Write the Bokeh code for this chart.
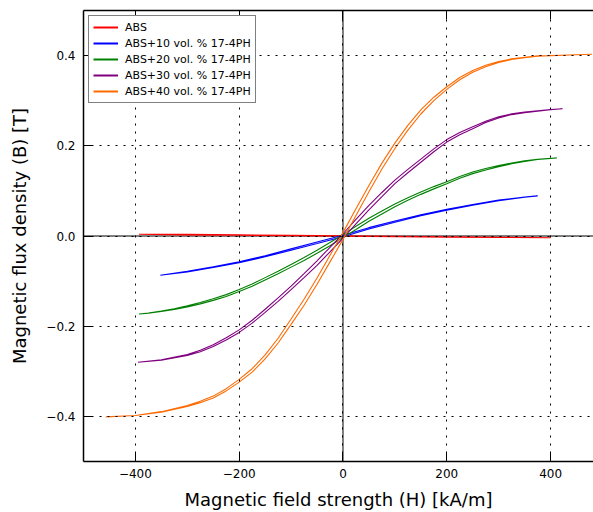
from bokeh.plotting import figure
from bokeh.models import Range1d, FixedTicker, LinearAxis, Span
from bokeh.embed import file_html
from bokeh.resources import INLINE

# ---------------- data ----------------
series_names = ["ABS", "ABS+10 vol. % 17-4PH", "ABS+20 vol. % 17-4PH",
                "ABS+30 vol. % 17-4PH", "ABS+40 vol. % 17-4PH"]
series_colors = ["#ff0000", "#0000ff", "#008000", "#800080", "#ff6a00"]

# Each loop: field H [kA/m], mid-line flux density B [T], and half the
# vertical gap between the two hysteresis branches at each H.

# ABS
H_abs = [-393, -300, -200, -100, 0, 100, 200, 300, 400]
B_abs = [0.004, 0.003, 0.002, 0.001, 0.0, -0.001, -0.002, -0.003, -0.004]
gap_abs = [0, 0.0005, 0.0005, 0.0005, 0.0005, 0.0005, 0.0005, 0.0003, 0]

# ABS+10
H_10 = [-352, -300, -250, -200, -150, -100, -50, 0, 50, 100, 150, 200, 250, 300, 350, 375]
B_10 = [-0.087, -0.079, -0.069, -0.058, -0.045, -0.030, -0.015, 0.0,
        0.017, 0.032, 0.046, 0.058, 0.069, 0.079, 0.086, 0.089]
gap_10 = [0, 0.0005, 0.0008, 0.001, 0.0012, 0.0014, 0.0015, 0.0015,
          0.0015, 0.0014, 0.0012, 0.001, 0.0008, 0.0005, 0.0002, 0]

# ABS+20
H_20 = [-393, -375, -350, -325, -300, -275, -250, -225, -200, -175, -150, -125,
        -100, -75, -50, -25, 0, 25, 50, 75, 100, 125, 150, 175, 200, 225, 250,
        275, 300, 325, 350, 375, 400, 412]
B_20 = [-0.173, -0.171, -0.167, -0.162, -0.156, -0.149, -0.141, -0.132, -0.121,
        -0.109, -0.095, -0.081, -0.066, -0.051, -0.035, -0.018, 0.0, 0.018,
        0.036, 0.052, 0.068, 0.082, 0.095, 0.107, 0.118, 0.130, 0.140, 0.148,
        0.155, 0.161, 0.166, 0.170, 0.172, 0.173]
gap_20 = [0, 0.0002, 0.0004, 0.0008, 0.0012, 0.0015, 0.0017, 0.002, 0.0022,
          0.0025, 0.0027, 0.0029, 0.003, 0.0032, 0.0033, 0.0035, 0.0035, 0.0035,
          0.0033, 0.0032, 0.003, 0.0029, 0.0027, 0.0025, 0.0022, 0.002, 0.0017,
          0.0015, 0.0012, 0.0008, 0.0006, 0.0003, 0.0001, 0]

# ABS+30
H_30 = [-395, -350, -300, -275, -250, -225, -200, -175, -150, -125, -100, -75,
        -50, -25, 0, 25, 50, 75, 100, 125, 150, 175, 200, 225, 250, 275, 300,
        325, 350, 400, 423]
B_30 = [-0.280, -0.275, -0.264, -0.255, -0.243, -0.228, -0.211, -0.190, -0.166,
        -0.141, -0.115, -0.088, -0.060, -0.030, 0.0, 0.032, 0.063, 0.092, 0.120,
        0.144, 0.167, 0.190, 0.211, 0.227, 0.240, 0.253, 0.263, 0.270, 0.274,
        0.280, 0.282]
gap_30 = [0, 0.0004, 0.001, 0.0015, 0.002, 0.0024, 0.0028, 0.0032, 0.0035,
          0.0038, 0.004, 0.0045, 0.005, 0.005, 0.005, 0.005, 0.005, 0.0045,
          0.004, 0.0038, 0.0035, 0.0032, 0.0028, 0.0024, 0.002, 0.0015, 0.0012,
          0.0008, 0.0006, 0.0002, 0]

# ABS+40
H_40 = [-457, -400, -350, -300, -275, -250, -225, -200, -175, -150, -125, -100,
        -75, -50, -25, 0, 25, 50, 75, 100, 125, 150, 175, 200, 225, 250, 275,
        300, 325, 350, 375, 400, 450, 480]
B_40 = [-0.401, -0.398, -0.390, -0.377, -0.368, -0.357, -0.341, -0.321, -0.298,
        -0.268, -0.232, -0.190, -0.147, -0.100, -0.050, 0.0, 0.053, 0.105, 0.155,
        0.200, 0.240, 0.275, 0.304, 0.328, 0.349, 0.365, 0.377, 0.386, 0.392,
        0.396, 0.399, 0.400, 0.402, 0.403]
gap_40 = [0, 0, 0.0005, 0.001, 0.0015, 0.002, 0.0025, 0.003, 0.0037, 0.0045,
          0.0053, 0.006, 0.0066, 0.007, 0.0074, 0.0075, 0.0074, 0.007, 0.0066,
          0.006, 0.0053, 0.0045, 0.0037, 0.003, 0.0025, 0.002, 0.0015, 0.001,
          0.0007, 0.0005, 0.0003, 0, 0, 0]

x_ticks = [-400, -200, 0, 200, 400]
x_tick_labels = ["\u2212400", "\u2212200", "0", "200", "400"]
y_ticks = [-0.4, -0.2, 0.0, 0.2, 0.4]
y_tick_labels = ["\u22120.4", "\u22120.2", "0.0", "0.2", "0.4"]

x_label = "Magnetic field strength (H) [kA/m]"
y_label = "Magnetic flux density (B) [T]"

FONT = "DejaVu Sans"
NAN = float("nan")

# ---------------- figure ----------------
p = figure(width=593, height=512, output_backend="svg", toolbar_location=None,
           x_range=Range1d(-500, 482.7), y_range=Range1d(-0.5, 0.5),
           min_border_left=83, min_border_right=0, min_border_top=10,
           min_border_bottom=51)
p.outline_line_color = None
p.background_fill_color = "white"
p.border_fill_color = "white"

# zero lines (below data)
p.add_layout(Span(location=0, dimension="width", line_color="black",
                  line_width=1, level="underlay"))
p.add_layout(Span(location=0, dimension="height", line_color="black",
                  line_width=1, level="underlay"))

loops = [
    (H_abs, B_abs, gap_abs),
    (H_10, B_10, gap_10),
    (H_20, B_20, gap_20),
    (H_30, B_30, gap_30),
    (H_40, B_40, gap_40),
]
for (H, B, G), name, col in zip(loops, series_names, series_colors):
    upper = [b + g for b, g in zip(B, G)]   # descending-field branch
    lower = [b - g for b, g in zip(B, G)]   # ascending-field branch
    xs = H[::-1] + H
    ys = upper[::-1] + lower
    p.line(xs, ys, line_color=col, line_width=1.1)
    # legend entry: thicker sample line, invisible (NaN) data
    p.line([NAN], [NAN], line_color=col, line_width=2, legend_label=name)

# axes
xt = FixedTicker(ticks=x_ticks, minor_ticks=[])
yt = FixedTicker(ticks=y_ticks, minor_ticks=[])

for ax, ticks, labels, tk in ((p.xaxis[0], x_ticks, x_tick_labels, xt),
                              (p.yaxis[0], y_ticks, y_tick_labels, yt)):
    ax.ticker = tk
    ax.major_label_overrides = {t: l for t, l in zip(ticks, labels)}
    ax.major_tick_in = 9
    ax.major_tick_out = 0
    ax.minor_tick_in = 0
    ax.minor_tick_out = 0
    ax.axis_line_width = 1.5
    ax.axis_line_color = "black"
    ax.major_tick_line_color = "black"
    ax.major_tick_line_width = 1
    ax.major_label_text_font = FONT
    ax.major_label_text_font_size = "12px"
    ax.major_label_text_color = "black"
    ax.axis_label_text_font = FONT
    ax.axis_label_text_font_size = "18px"
    ax.axis_label_text_font_style = "normal"
    ax.axis_label_text_color = "black"

p.xaxis[0].axis_label = x_label
p.yaxis[0].axis_label = y_label
p.xaxis[0].major_label_standoff = 7
p.xaxis[0].axis_label_standoff = 8
p.yaxis[0].major_label_standoff = 8
p.yaxis[0].axis_label_standoff = 13

top = LinearAxis(ticker=xt, major_tick_in=9, major_tick_out=0,
                 minor_tick_in=0, minor_tick_out=0,
                 major_label_overrides={t: "" for t in x_ticks},
                 major_label_standoff=0,
                 axis_line_width=1.5, axis_line_color="black")
p.add_layout(top, "above")

# grid (dotted, drawn above data)
for g, tk in ((p.xgrid[0], xt), (p.ygrid[0], yt)):
    g.ticker = tk
    g.grid_line_color = "black"
    g.grid_line_width = 1
    g.grid_line_dash = "2 6"
    g.level = "guide"

# legend
lg = p.legend[0]
lg.location = "top_left"
lg.margin = 5
lg.padding = 4
lg.spacing = 2
lg.glyph_width = 25
lg.glyph_height = 14
lg.label_height = 14
lg.label_standoff = 7
lg.label_text_font = FONT
lg.label_text_font_size = "11px"
lg.label_text_color = "black"
lg.border_line_color = "black"
lg.border_line_width = 1.5
lg.background_fill_color = "white"
lg.background_fill_alpha = 1.0

open("out.html", "w").write(file_html(p, INLINE))
